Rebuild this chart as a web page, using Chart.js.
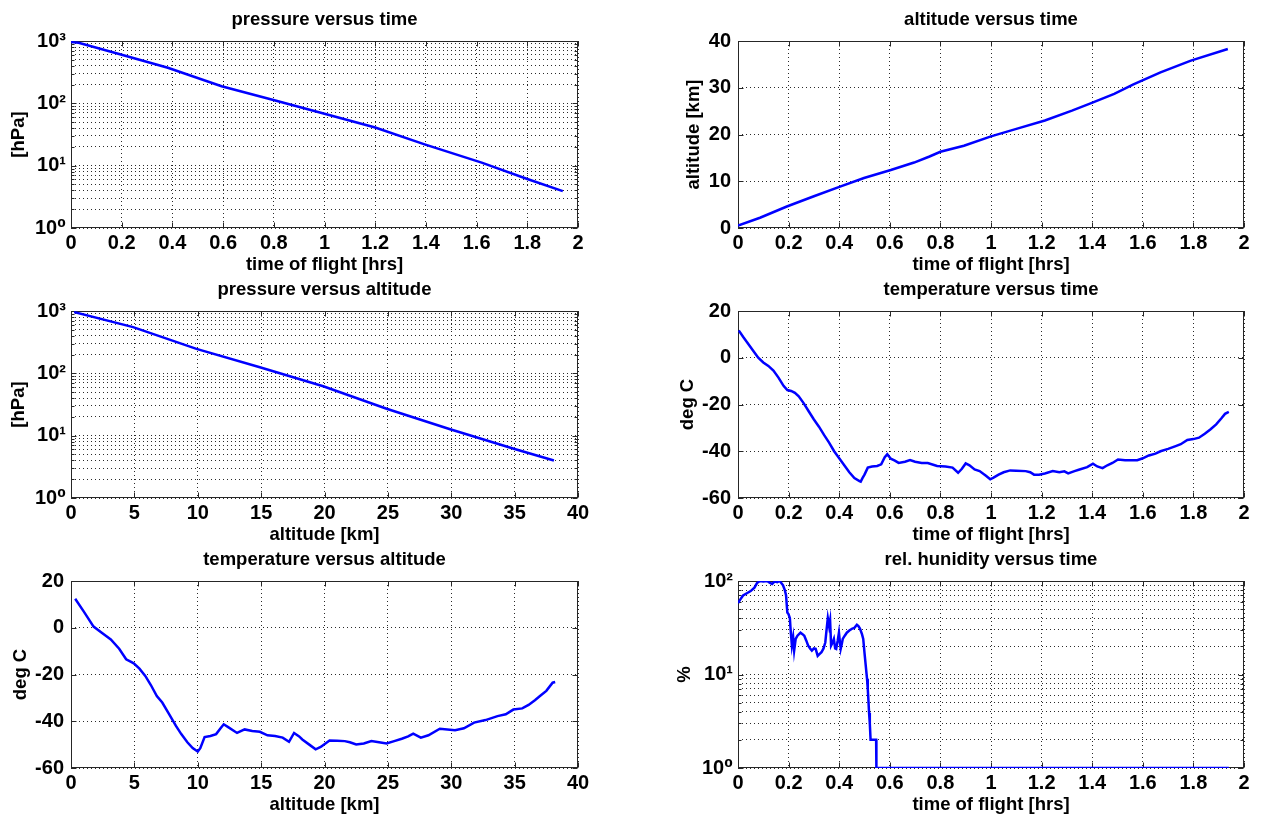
<!DOCTYPE html>
<html>
<head>
<meta charset="utf-8">
<title>balloon flight</title>
<script src="https://cdn.jsdelivr.net/npm/chart.js@4.4.1/dist/chart.umd.min.js"></script>
<style>
html, body { margin: 0; padding: 0; background: #fff; width: 1264px; height: 820px; overflow: hidden; }
canvas.plot { position: absolute; }
</style>
</head>
<body>
<canvas id="pressTime" class="plot" width="600" height="280" style="left:0px;top:0px"></canvas>
<canvas id="altTime" class="plot" width="597" height="280" style="left:667px;top:0px"></canvas>
<canvas id="pressAlt" class="plot" width="600" height="280" style="left:0px;top:270px"></canvas>
<canvas id="tempTime" class="plot" width="597" height="280" style="left:667px;top:270px"></canvas>
<canvas id="tempAlt" class="plot" width="600" height="280" style="left:0px;top:540px"></canvas>
<canvas id="humTime" class="plot" width="597" height="280" style="left:667px;top:540px"></canvas>
<script>
// pressure versus time
var pressTimeHrs = [0, 0.03, 0.186, 0.382, 0.594, 0.806, 1.0, 1.2, 1.395, 1.62, 1.8, 1.94];
var pressTimeHpa = [960, 940, 625, 373, 188, 111, 68, 41, 22, 11.2, 6.1, 3.9];

// altitude versus time
var altTimeHrs = [0, 0.087, 0.193, 0.30, 0.406, 0.498, 0.604, 0.696, 0.757, 0.80, 0.893, 1.0, 1.107, 1.213, 1.32, 1.396, 1.487, 1.563, 1.67, 1.79, 1.936];
var altTimeKm = [0.5, 2.2, 4.6, 6.8, 8.9, 10.7, 12.4, 14.0, 15.3, 16.3, 17.6, 19.6, 21.3, 23.0, 25.1, 26.7, 28.7, 30.7, 33.3, 35.8, 38.3];

// pressure versus altitude
var pressAltKm = [0.25, 4.9, 9.9, 14.9, 19.9, 24.9, 29.85, 35, 38.1];
var pressAltHpa = [960, 552, 247, 125, 62, 27, 12.8, 6.1, 4.0];

// temperature versus time
var tempTimeHrs = [0.003, 0.02, 0.04, 0.06, 0.08, 0.10, 0.12, 0.14, 0.16, 0.18, 0.195, 0.21, 0.225, 0.24, 0.26, 0.28, 0.30, 0.32, 0.34, 0.36,
	0.38, 0.40, 0.42, 0.44, 0.46, 0.48, 0.485, 0.492, 0.50, 0.513, 0.53, 0.55, 0.566, 0.58, 0.59, 0.604, 0.62, 0.635, 0.66, 0.68,
	0.70, 0.726, 0.75, 0.787, 0.82, 0.848, 0.87, 0.885, 0.90, 0.915, 0.935, 0.955, 0.98, 0.997, 1.01, 1.03, 1.05, 1.076, 1.10, 1.137,
	1.155, 1.17, 1.19, 1.213, 1.244, 1.27, 1.29, 1.305, 1.33, 1.35, 1.38, 1.403, 1.42, 1.441, 1.46, 1.48, 1.502, 1.53, 1.578, 1.60,
	1.624, 1.65, 1.67, 1.70, 1.73, 1.75, 1.776, 1.80, 1.822, 1.845, 1.868, 1.89, 1.91, 1.925, 1.94];
var tempTimeDeg = [11.7, 9, 6, 3, 0, -2, -3.5, -5.5, -8.5, -12, -13.8, -14.2, -15, -16.5, -19.5, -23, -26.4, -29.5, -33, -36.3,
	-40, -43, -46, -49, -51.5, -52.8, -53, -51.5, -50, -47, -46.5, -46.3, -45.6, -42.5, -41.3, -43.2, -44, -45, -44.5, -43.8,
	-44.5, -45, -45, -46.3, -46.5, -47, -49.2, -47.5, -45.2, -46, -47.8, -48.5, -50.5, -52, -51.3, -50, -49, -48.2, -48.3, -48.5,
	-49, -50, -50, -49.5, -48.5, -49, -48.6, -49.5, -48.5, -47.8, -46.8, -45.3, -46.5, -47.2, -46, -45, -43.5, -43.8, -43.8, -43,
	-41.8, -41, -40, -39, -37.8, -37, -35.2, -34.8, -34.2, -32.5, -30.6, -28.5, -26, -24, -23.2];

// temperature versus altitude
var tempAltKm = [0.33, 1.0, 1.78, 2.4, 3.14, 3.8, 4.35, 4.7, 4.95, 5.4, 5.86, 6.3, 6.77, 7.2, 7.67, 8.28, 8.7, 9.18, 9.6, 10.0,
	10.2, 10.54, 11.0, 11.45, 11.8, 12.05, 12.4, 13.1, 13.7, 14.3, 14.9, 15.5, 16.1, 16.7, 17.2, 17.6, 18.0, 18.25, 18.8, 19.3,
	19.7, 20.4, 21.0, 21.6, 22.0, 22.5, 23.1, 23.7, 24.3, 24.9, 25.5, 26.1, 26.6, 27.0, 27.6, 28.2, 29.1, 30.3, 31.0, 31.8,
	32.7, 33.65, 34.3, 34.9, 35.6, 36.1, 36.6, 37.0, 37.5, 38.0, 38.2];
var tempAltDeg = [12.4, 7, 0.5, -2, -5, -9, -13.5, -14.5, -15.2, -17.5, -20.6, -24.5, -29.2, -32, -36.3, -42, -45.5, -49, -51.5, -53,
	-51.5, -46.8, -46.3, -45.5, -43, -41.3, -42.5, -45, -43.5, -44.2, -44.5, -46, -46.3, -47, -48.8, -45, -46.5, -47.8, -50, -52,
	-51, -48.2, -48.3, -48.5, -49, -49.9, -49.5, -48.5, -49, -49.5, -48.5, -47.5, -46.5, -45.3, -47, -46, -43.2, -43.8, -43, -40.6,
	-39.5, -37.8, -37, -35, -34.5, -33, -31, -29.2, -27, -23.5, -23.2];

// rel. humidity versus time
var humTimeHrs = [0, 0.01, 0.02, 0.035, 0.05, 0.065, 0.075, 0.087, 0.1, 0.115, 0.125, 0.135, 0.145, 0.155, 0.165, 0.178, 0.185, 0.19, 0.195, 0.2,
	0.205, 0.208, 0.213, 0.218, 0.222, 0.228, 0.235, 0.247, 0.255, 0.262, 0.27, 0.277, 0.285, 0.292, 0.3, 0.307, 0.315, 0.322, 0.33, 0.338,
	0.345, 0.35, 0.355, 0.36, 0.364, 0.368, 0.374, 0.379, 0.384, 0.388, 0.394, 0.399, 0.403, 0.406, 0.41, 0.414, 0.422, 0.43, 0.44, 0.452,
	0.46, 0.47, 0.476, 0.482, 0.49, 0.495, 0.5, 0.505, 0.51, 0.513, 0.516, 0.518, 0.521, 0.524, 0.536, 0.546, 0.547, 1.94];
var humPercent = [58, 64, 70, 74, 78, 85, 95, 100, 99, 100, 96, 93, 99, 97, 100, 90, 80, 70, 46, 44,
	40, 30, 20.5, 25, 18, 24, 26, 28, 27, 26, 23, 20.5, 19, 18, 19, 18.8, 15.8, 16.5, 17.3, 19,
	22, 30, 40, 33, 38, 20.4, 22, 24, 19, 18.8, 23, 28, 22, 18.8, 21, 24, 26, 28, 29.5, 31,
	31.5, 34, 33, 31, 27, 24, 17, 12.4, 9, 7, 5, 3.9, 3, 2, 2, 2, 1, 1];

// log axis grid and labels
var pressureGrid = [1, 2, 3, 4, 5, 6, 7, 8, 9, 10, 20, 30, 40, 50, 60, 70, 80, 90, 100, 200, 300, 400, 500, 600, 700, 800, 900, 1000];
var humidityGrid = [1, 2, 3, 4, 5, 6, 7, 8, 9, 10, 20, 30, 40, 50, 60, 70, 80, 90, 100];
var logDecades = [1, 10, 100, 1000];
var logDecadeLabels = ["10\u2070", "10\u00b9", "10\u00b2", "10\u00b3"];

var flightCharts = {
	fontFamily: "'Liberation Sans', Arial, 'DejaVu Sans', sans-serif",
	lineColor: "#0000ff",
	gridColor: "#2a2a2a",
	frameColor: "#262626",

	init: function(){
		Chart.defaults.font.family = flightCharts.fontFamily;
		Chart.defaults.color = "#000";

		flightCharts.draw("pressTime", pressTimeHrs, pressTimeHpa, {
			title: "pressure versus time", xTitle: "time of flight [hrs]", yTitle: "[hPa]", yTitlePad: 8,
			x: [0, 2, 0.2], yLog: pressureGrid
		});
		flightCharts.draw("altTime", altTimeHrs, altTimeKm, {
			title: "altitude versus time", xTitle: "time of flight [hrs]", yTitle: "altitude [km]", yTitlePad: 16,
			x: [0, 2, 0.2], y: [0, 40, 10]
		});
		flightCharts.draw("pressAlt", pressAltKm, pressAltHpa, {
			title: "pressure versus altitude", xTitle: "altitude [km]", yTitle: "[hPa]", yTitlePad: 8,
			x: [0, 40, 5], yLog: pressureGrid
		});
		flightCharts.draw("tempTime", tempTimeHrs, tempTimeDeg, {
			title: "temperature versus time", xTitle: "time of flight [hrs]", yTitle: "deg C", yTitlePad: 10,
			x: [0, 2, 0.2], y: [-60, 20, 20]
		});
		flightCharts.draw("tempAlt", tempAltKm, tempAltDeg, {
			title: "temperature versus altitude", xTitle: "altitude [km]", yTitle: "deg C", yTitlePad: 10,
			x: [0, 40, 5], y: [-60, 20, 20]
		});
		flightCharts.draw("humTime", humTimeHrs, humPercent, {
			title: "rel. hunidity versus time", xTitle: "time of flight [hrs]", yTitle: "%", yTitlePad: 7,
			x: [0, 2, 0.2], yLog: humidityGrid
		});
	},

	// dotted MATLAB style grid (dash comes from border.dash in v4)
	grid: function(){
		return {color: flightCharts.gridColor, lineWidth: 1, drawTicks: false};
	},

	// 1.0 -> "1", 0.2 -> "0.2"
	plainNumber: function(v){
		return String(Number(Number(v).toFixed(2)));
	},

	draw: function(id, xs, ys, o){
		var canvas = document.getElementById(id);
		var leftCol = canvas.style.left == "0px";
		var padRight = canvas.width - (leftCol ? 578 : 577);
		var points = xs.map(function(v, i){ return {x: v, y: ys[i]}; });
		var tickFont = {size: 20, weight: "bold"};
		var labelFont = {size: 18.5, weight: "bold"};

		var xScale = {
			type: "linear", min: o.x[0], max: o.x[1],
			ticks: {stepSize: o.x[2], autoSkip: false, maxRotation: 0, padding: 3, font: tickFont, color: "#000", callback: flightCharts.plainNumber},
			grid: flightCharts.grid(),
			border: {display: false, dash: [1, 3]},
			title: {display: true, text: o.xTitle, font: labelFont, color: "#000", padding: {top: 0, bottom: 4}},
			afterFit: function(s){ s.height = 52; }
		};
		var yScale = {
			min: o.yLog ? o.yLog[0] : o.y[0],
			max: o.yLog ? o.yLog[o.yLog.length - 1] : o.y[1],
			ticks: {autoSkip: false, padding: o.yLog ? 5 : 7, font: tickFont, color: "#000"},
			grid: flightCharts.grid(),
			border: {display: false, dash: [1, 3]},
			title: {display: true, text: o.yTitle, font: labelFont, color: "#000", padding: {top: o.yTitlePad, bottom: 0}},
			afterFit: function(s){ s.width = 71; }
		};
		if(o.yLog){
			yScale.type = "logarithmic";
			yScale.afterBuildTicks = function(s){
				s.ticks = o.yLog.map(function(v){ return {value: v, major: logDecades.indexOf(v) >= 0}; });
			};
			yScale.ticks.callback = function(v){
				var i = logDecades.indexOf(v);
				return i >= 0 ? logDecadeLabels[i] : "";
			};
		}else{
			yScale.type = "linear";
			yScale.ticks.stepSize = o.y[2];
			yScale.ticks.callback = flightCharts.plainNumber;
		}

		return new Chart(canvas, {
			type: "line",
			data: {
				datasets: [{
					data: points,
					borderColor: flightCharts.lineColor,
					borderWidth: 2.5,
					pointRadius: 0,
					tension: 0,
					fill: false
				}]
			},
			options: {
				responsive: false,
				animation: false,
				events: [],
				layout: {padding: {left: 0, top: 0, right: padRight, bottom: 0}},
				scales: {x: xScale, y: yScale},
				plugins: {
					legend: {display: false},
					tooltip: {enabled: false},
					title: {display: true, text: o.title, fullSize: false, font: labelFont, color: "#000", padding: {top: 8.5, bottom: 10.3}}
				}
			},
			plugins: [flightCharts.frame]
		});
	},

	// axes box with inward tick marks on all four sides
	frame: {
		id: "boxFrame",
		beforeDatasetsDraw: function(chart){
			var ctx = chart.ctx, a = chart.chartArea;
			var l = Math.round(a.left) + 0.5, r = Math.round(a.right) - 0.5;
			var t = Math.round(a.top) + 0.5, b = Math.round(a.bottom) - 0.5;
			ctx.save();
			ctx.strokeStyle = flightCharts.frameColor;
			ctx.lineWidth = 1;
			ctx.beginPath();
			chart.scales.x.ticks.forEach(function(tk){
				var px = Math.round(chart.scales.x.getPixelForValue(tk.value)) + 0.5;
				ctx.moveTo(px, b); ctx.lineTo(px, b - 5);
				ctx.moveTo(px, t); ctx.lineTo(px, t + 5);
			});
			chart.scales.y.ticks.forEach(function(tk){
				var py = Math.round(chart.scales.y.getPixelForValue(tk.value)) + 0.5;
				var len = chart.scales.y.type == "logarithmic" && !tk.major ? 3 : 5;
				ctx.moveTo(l, py); ctx.lineTo(l + len, py);
				ctx.moveTo(r, py); ctx.lineTo(r - len, py);
			});
			ctx.stroke();
			ctx.strokeRect(l, t, r - l, b - t);
			ctx.restore();
		}
	}
};

flightCharts.init();
</script>
</body>
</html>
